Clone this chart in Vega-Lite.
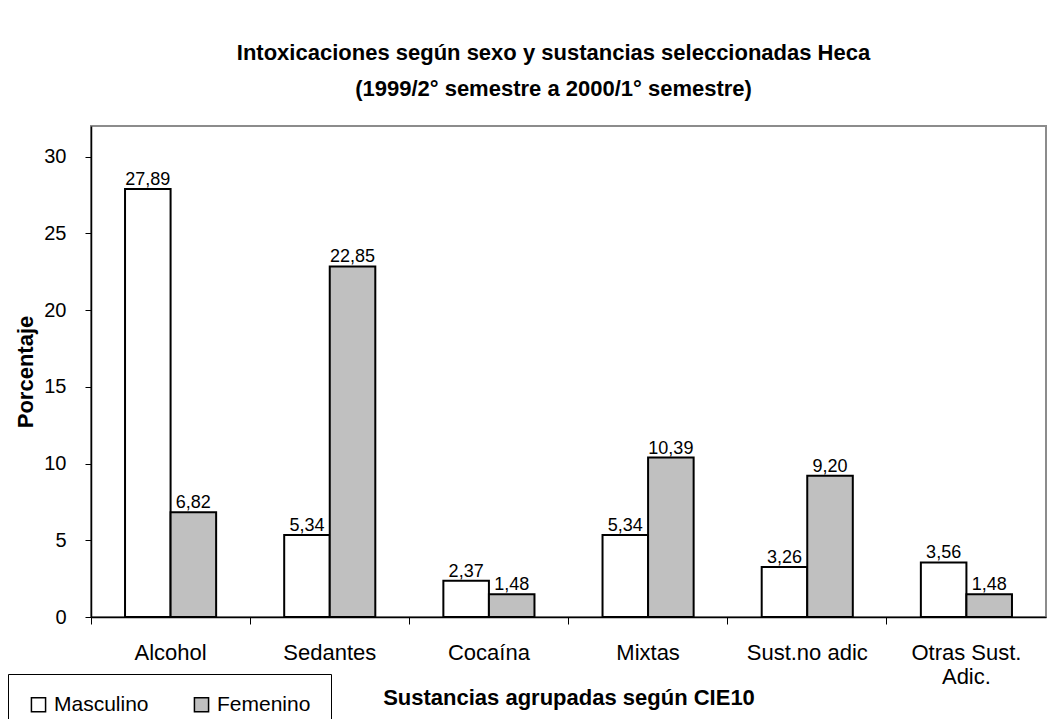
{
  "$schema": "https://vega.github.io/schema/vega-lite/v6.json",
  "width": 955,
  "height": 491,
  "autosize": {"type": "none"},
  "padding": {"left": 91, "top": 126, "right": 11, "bottom": 102},
  "background": "white",
  "config": {
    "font": "Liberation Sans",
    "locale": {"number": {"decimal": ",", "thousands": ".", "grouping": [3], "currency": ["", ""]}},
    "view": {"stroke": "#8c8c8c", "strokeWidth": 2}
  },
  "title": {
    "text": ["Intoxicaciones según sexo y sustancias seleccionadas Heca", "(1999/2° semestre a 2000/1° semestre)"],
    "fontSize": 22,
    "fontWeight": "bold",
    "color": "black",
    "lineHeight": 36,
    "anchor": "middle",
    "offset": 25,
    "dx": -15
  },
  "data": {
    "values": [
      {"sustancia": "Alcohol", "sexo": "Masculino", "porcentaje": 27.89},
      {"sustancia": "Alcohol", "sexo": "Femenino", "porcentaje": 6.82},
      {"sustancia": "Sedantes", "sexo": "Masculino", "porcentaje": 5.34},
      {"sustancia": "Sedantes", "sexo": "Femenino", "porcentaje": 22.85},
      {"sustancia": "Cocaína", "sexo": "Masculino", "porcentaje": 2.37},
      {"sustancia": "Cocaína", "sexo": "Femenino", "porcentaje": 1.48},
      {"sustancia": "Mixtas", "sexo": "Masculino", "porcentaje": 5.34},
      {"sustancia": "Mixtas", "sexo": "Femenino", "porcentaje": 10.39},
      {"sustancia": "Sust.no adic", "sexo": "Masculino", "porcentaje": 3.26},
      {"sustancia": "Sust.no adic", "sexo": "Femenino", "porcentaje": 9.2},
      {"sustancia": "Otras Sust. Adic.", "sexo": "Masculino", "porcentaje": 3.56},
      {"sustancia": "Otras Sust. Adic.", "sexo": "Femenino", "porcentaje": 1.48}
    ]
  },
  "encoding": {
    "x": {
      "field": "sustancia",
      "type": "nominal",
      "sort": null,
      "scale": {"paddingInner": 0, "paddingOuter": 0},
      "axis": {
        "title": "Sustancias agrupadas según CIE10",
        "titleFontSize": 22,
        "titleFontWeight": "bold",
        "titleColor": "black",
        "titleY": 80,
        "titleBaseline": "middle",
        "labelAngle": 0,
        "labelFontSize": 22,
        "labelColor": "black",
        "labelPadding": 18,
        "labelLineHeight": 24,
        "labelExpr": "datum.label == 'Otras Sust. Adic.' ? ['Otras Sust.', 'Adic.'] : datum.label",
        "bandPosition": 0,
        "tickSize": 7,
        "tickColor": "black",
        "tickWidth": 1,
        "domainColor": "black",
        "domainWidth": 1.5
      }
    },
    "xOffset": {
      "field": "sexo",
      "type": "nominal",
      "sort": ["Masculino", "Femenino"],
      "scale": {"paddingInner": 0, "paddingOuter": 0.747}
    },
    "y": {
      "field": "porcentaje",
      "type": "quantitative",
      "scale": {"domain": [0, 32], "nice": false},
      "axis": {
        "title": "Porcentaje",
        "titleFontSize": 22,
        "titleFontWeight": "bold",
        "titleColor": "black",
        "titlePadding": 6,
        "values": [0, 5, 10, 15, 20, 25, 30],
        "format": "d",
        "labelFontSize": 20,
        "labelColor": "black",
        "labelPadding": 19,
        "tickSize": 6,
        "tickColor": "black",
        "domainColor": "black",
        "domainWidth": 1.5,
        "grid": false
      }
    }
  },
  "layer": [
    {
      "mark": {"type": "bar", "stroke": "black", "strokeWidth": 2},
      "encoding": {
        "fill": {
          "field": "sexo",
          "type": "nominal",
          "sort": ["Masculino", "Femenino"],
          "scale": {"domain": ["Masculino", "Femenino"], "range": ["#ffffff", "#c0c0c0"]},
          "legend": {
            "title": null,
            "orient": "none",
            "legendX": -83,
            "legendY": 548,
            "direction": "horizontal",
            "strokeColor": "black",
            "fillColor": "white",
            "padding": 20,
            "symbolType": "square",
            "symbolSize": 200,
            "symbolStrokeColor": "black",
            "symbolStrokeWidth": 1.5,
            "labelFontSize": 21,
            "labelColor": "black",
            "labelOffset": 5,
            "columnPadding": 42
          }
        }
      }
    },
    {
      "mark": {"type": "text", "baseline": "alphabetic", "dy": -4, "fontSize": 18, "color": "black"},
      "encoding": {
        "text": {"field": "porcentaje", "type": "quantitative", "format": ".2f"}
      }
    }
  ]
}
